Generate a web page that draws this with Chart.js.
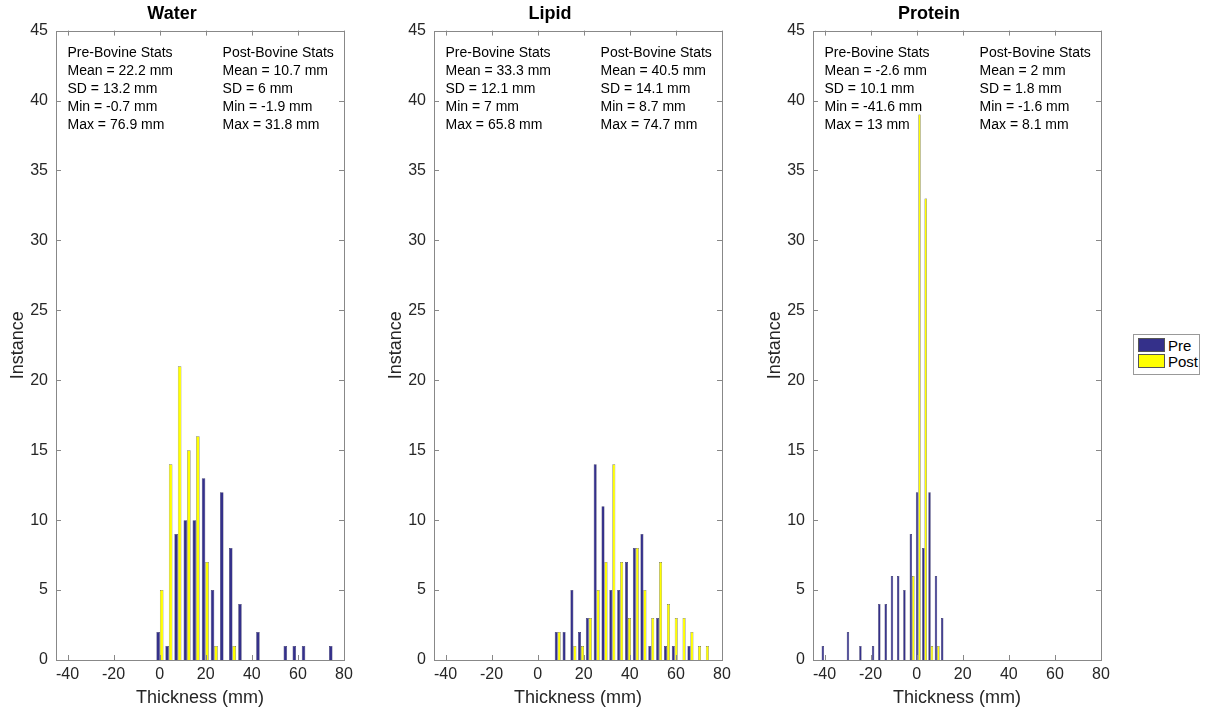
<!DOCTYPE html>
<html>
<head>
<meta charset="utf-8">
<script src="https://cdn.jsdelivr.net/npm/chart.js@4/dist/chart.umd.min.js"></script>
<style>
  body { margin: 0; background: #fff; width: 1205px; height: 715px; position: relative; overflow: hidden; }
  .panel { position: absolute; top: 0; width: 362px; height: 715px; }
  .legend {
    position: absolute; left: 1133px; top: 334px; width: 65px; height: 39px;
    border: 1px solid #999; background: #fff;
    font: 15px "Liberation Sans", Arial, sans-serif; color: #000;
  }
  .legend .row { position: absolute; left: 4px; height: 15px; line-height: 15px; }
  .legend .sw { display: inline-block; width: 27px; height: 14px; vertical-align: top; box-sizing: border-box; border: 1px solid #555; margin-right: 3px; }
</style>
</head>
<body>
<div class="panel" style="left:0px"><canvas id="chart-water"></canvas></div>
<div class="panel" style="left:378px"><canvas id="chart-lipid"></canvas></div>
<div class="panel" style="left:757px"><canvas id="chart-protein"></canvas></div>
<div class="legend">
  <div class="row" style="top:3px"><span class="sw" style="background:#34308a"></span>Pre</div>
  <div class="row" style="top:19px"><span class="sw" style="background:#ffff00"></span>Post</div>
</div>
<script>
// ------------------------------------------------------------
// Histogram data (bin centres in mm, counts per bin)
// ------------------------------------------------------------
const X_TICKS = [-40, -20, 0, 20, 40, 60, 80];
const Y_TICKS = [0, 5, 10, 15, 20, 25, 30, 35, 40, 45];

const waterBins = [0.1, 4.0, 7.9, 11.9, 15.8, 19.8, 23.7, 27.7, 31.6, 35.6, 39.5, 43.4, 47.4, 51.3, 55.3, 59.2, 63.2, 67.1, 71.0, 75.0];
const waterPre  = [2, 1, 9, 10, 10, 13, 5, 12, 8, 4, 0, 2, 0, 0, 1, 1, 1, 0, 0, 1];
const waterPost = [5, 14, 21, 15, 16, 7, 1, 0, 1, 0, 0, 0, 0, 0, 0, 0, 0, 0, 0, 0];

const lipidBins = [8.7, 12.1, 15.5, 18.8, 22.2, 25.6, 29.0, 32.4, 35.8, 39.2, 42.6, 45.9, 49.3, 52.7, 56.1, 59.5, 62.9, 66.3, 69.6, 73.0];
const lipidPre  = [2, 2, 5, 2, 3, 14, 11, 5, 5, 7, 8, 9, 1, 3, 1, 1, 0, 1, 0, 0];
const lipidPost = [2, 0, 1, 1, 3, 5, 7, 14, 7, 3, 8, 5, 3, 7, 4, 3, 3, 2, 1, 1];

const proteinBins = [-40.2, -37.5, -34.8, -32.0, -29.3, -26.6, -23.9, -21.1, -18.4, -15.7, -12.9, -10.2, -7.5, -4.8, -2.0, 0.7, 3.4, 6.1, 8.9, 11.6];
const proteinPre  = [1, 0, 0, 0, 2, 0, 1, 0, 1, 4, 4, 6, 6, 5, 9, 12, 8, 12, 6, 3];
const proteinPost = [0, 0, 0, 0, 0, 0, 0, 0, 0, 0, 0, 0, 0, 0, 6, 39, 33, 1, 1, 0];

const waterStatsPre    = ['Pre-Bovine Stats', 'Mean = 22.2 mm', 'SD = 13.2 mm', 'Min = -0.7 mm', 'Max = 76.9 mm'];
const waterStatsPost   = ['Post-Bovine Stats', 'Mean = 10.7 mm', 'SD = 6 mm', 'Min = -1.9 mm', 'Max = 31.8 mm'];
const lipidStatsPre    = ['Pre-Bovine Stats', 'Mean = 33.3 mm', 'SD = 12.1 mm', 'Min = 7 mm', 'Max = 65.8 mm'];
const lipidStatsPost   = ['Post-Bovine Stats', 'Mean = 40.5 mm', 'SD = 14.1 mm', 'Min = 8.7 mm', 'Max = 74.7 mm'];
const proteinStatsPre  = ['Pre-Bovine Stats', 'Mean = -2.6 mm', 'SD = 10.1 mm', 'Min = -41.6 mm', 'Max = 13 mm'];
const proteinStatsPost = ['Post-Bovine Stats', 'Mean = 2 mm', 'SD = 1.8 mm', 'Min = -1.6 mm', 'Max = 8.1 mm'];

const FONT     = '"Liberation Sans", Arial, Helvetica, sans-serif';
const AXIS_COL = '#888888';
const PRE_COL  = '#34308a';
const POST_COL = '#ffff00';

// MATLAB-style box: full frame with inward ticks on all four sides
const boxTicks = {
  id: 'boxTicks',
  afterDraw(chart) {
    const { ctx, chartArea: a, scales: { x, y } } = chart;
    ctx.save();
    ctx.strokeStyle = AXIS_COL;
    ctx.lineWidth = 1;
    ctx.beginPath();
    X_TICKS.forEach(v => {
      const px = Math.round(x.getPixelForValue(v)) + 0.5;
      ctx.moveTo(px, a.bottom); ctx.lineTo(px, a.bottom - 5);
      ctx.moveTo(px, a.top);    ctx.lineTo(px, a.top + 5);
    });
    Y_TICKS.forEach(v => {
      const py = Math.round(y.getPixelForValue(v)) + 0.5;
      ctx.moveTo(a.left, py);  ctx.lineTo(a.left + 5, py);
      ctx.moveTo(a.right, py); ctx.lineTo(a.right - 5, py);
    });
    ctx.stroke();
    ctx.strokeRect(Math.round(a.left) + 0.5, Math.round(a.top) + 0.5,
                   Math.round(a.right - a.left), Math.round(a.bottom - a.top));
    ctx.restore();
  }
};

// Stats text block in the upper part of each panel
const statsText = {
  id: 'statsText',
  afterDraw(chart, args, opts) {
    const { ctx, scales: { x, y } } = chart;
    ctx.save();
    ctx.font = `14px ${FONT}`;
    ctx.fillStyle = '#000';
    ctx.textBaseline = 'middle';
    ctx.textAlign = 'left';
    const y0 = y.getPixelForValue(43.4);
    [[opts.pre, -40], [opts.post, 27.3]].forEach(([lines, xv]) => {
      const px = x.getPixelForValue(xv);
      lines.forEach((t, i) => ctx.fillText(t, px, y0 + i * 18));
    });
    ctx.restore();
  }
};

function makePanel(canvasId, title, bins, pre, post, statsPre, statsPost) {
  const toPts = arr => bins.map((b, i) => ({ x: b, y: arr[i] }));
  return new Chart(document.getElementById(canvasId).getContext('2d'), {
    type: 'bar',
    data: {
      datasets: [
        { label: 'Pre',  data: toPts(pre),  backgroundColor: PRE_COL,  borderColor: '#1c1a4a', borderWidth: 0.5 },
        { label: 'Post', data: toPts(post), backgroundColor: POST_COL, borderColor: '#3a3a3a', borderWidth: 0.5 }
      ]
    },
    options: {
      responsive: true,
      maintainAspectRatio: false,
      animation: false,
      categoryPercentage: 0.78,
      barPercentage: 1.0,
      layout: { padding: { right: 18 } },
      plugins: {
        legend: { display: false },
        tooltip: { enabled: false },
        title: {
          display: true, text: title, color: '#000',
          font: { family: FONT, size: 18, weight: 'bold' },
          padding: { top: 3, bottom: 6 }
        },
        statsText: { pre: statsPre, post: statsPost }
      },
      scales: {
        x: {
          type: 'linear', min: -45, max: 80, offset: false,
          grid: { display: false, offset: false, drawTicks: false },
          border: { display: false },
          afterBuildTicks: s => { s.ticks = X_TICKS.map(v => ({ value: v })); },
          afterFit: s => { s.height = 55; s.paddingLeft = 0; s.paddingRight = 0; },
          ticks: { color: '#262626', font: { family: FONT, size: 16 }, padding: 5, maxRotation: 0 },
          title: {
            display: true, text: 'Thickness (mm)', color: '#262626',
            font: { family: FONT, size: 18 }, padding: { top: 0, bottom: 6 }
          }
        },
        y: {
          min: 0, max: 45,
          grid: { display: false, drawTicks: false },
          border: { display: false },
          afterBuildTicks: s => { s.ticks = Y_TICKS.map(v => ({ value: v })); },
          afterFit: s => { s.width = 56; s.paddingTop = 0; s.paddingBottom = 0; },
          ticks: { color: '#262626', font: { family: FONT, size: 16 }, padding: 8 },
          title: {
            display: true, text: 'Instance', color: '#262626',
            font: { family: FONT, size: 18 }, padding: { top: 7, bottom: 0 }
          }
        }
      }
    },
    plugins: [boxTicks, statsText]
  });
}

makePanel('chart-water',   'Water',   waterBins,   waterPre,   waterPost,   waterStatsPre,   waterStatsPost);
makePanel('chart-lipid',   'Lipid',   lipidBins,   lipidPre,   lipidPost,   lipidStatsPre,   lipidStatsPost);
makePanel('chart-protein', 'Protein', proteinBins, proteinPre, proteinPost, proteinStatsPre, proteinStatsPost);
</script>
</body>
</html>
